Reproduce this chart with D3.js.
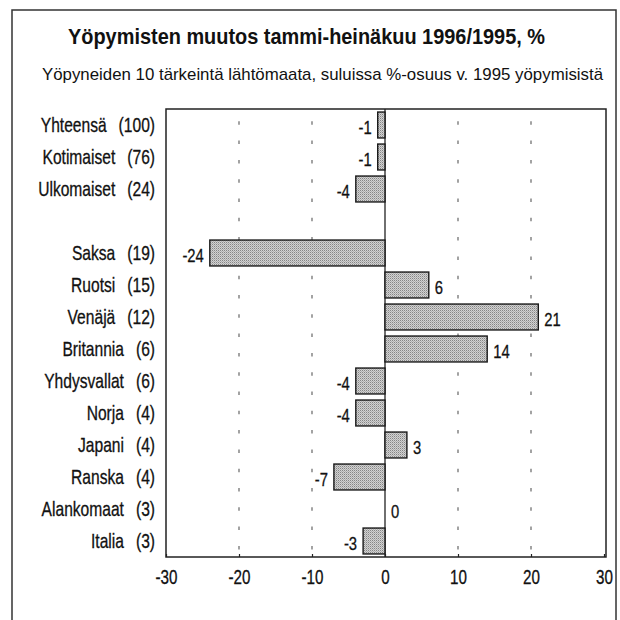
<!DOCTYPE html>
<html>
<head>
<meta charset="utf-8">
<script src="https://cdn.jsdelivr.net/npm/d3@7"></script>
<style>
  html, body { margin: 0; padding: 0; background: #fff; }
  svg { display: block; }
  .narrow { font-family: "Liberation Sans", Arial, Helvetica, sans-serif; stroke: #111; stroke-width: 0.3px; }
</style>
</head>
<body>
<svg id="chart" width="620" height="620"></svg>
<script>
// ---- data ----
const titleText = "Yöpymisten muutos tammi-heinäkuu 1996/1995, %";
const subtitleText = "Yöpyneiden 10 tärkeintä lähtömaata, suluissa %-osuus v. 1995 yöpymisistä";
const names = ["Yhteensä", "Kotimaiset", "Ulkomaiset", "Saksa", "Ruotsi", "Venäjä", "Britannia",
               "Yhdysvallat", "Norja", "Japani", "Ranska", "Alankomaat", "Italia"];
const shares = [100, 76, 24, 19, 15, 12, 6, 6, 4, 4, 4, 3, 3];
const values = [-1, -1, -4, -24, 6, 21, 14, -4, -4, 3, -7, 0, -3];
const tickValues = [-30, -20, -10, 0, 10, 20, 30];
const gridValues = [-20, -10, 10, 20];
const gapAfter = 2; // empty slot after "Ulkomaiset"

// ---- layout ----
const SX = 0.78; // horizontal condensing of the narrow face
const svg = d3.select("#chart");
const rows = names.map((n, i) => ({ name: n, share: shares[i], value: values[i] }));
const slots = [];
rows.forEach((r, i) => { slots.push(r.name); if (i === gapAfter) slots.push("__gap__"); });

const x = d3.scaleLinear().domain([-30, 30]).range([166, 604]);
const y = d3.scaleBand().domain(slots).range([109, 557]).paddingInner(0.19).paddingOuter(0.095);
const plotTop = 109, plotBottom = 557, plotLeft = x(-30), plotRight = x(30) + 2;

// pattern for stippled bars
const defs = svg.append("defs");
const pat = defs.append("pattern").attr("id", "stip").attr("width", 2).attr("height", 2)
  .attr("patternUnits", "userSpaceOnUse");
pat.append("rect").attr("width", 2).attr("height", 2).attr("fill", "#d2d2d2");
pat.append("rect").attr("width", 1).attr("height", 1).attr("fill", "#858585");
pat.append("rect").attr("x", 1).attr("y", 1).attr("width", 1).attr("height", 1).attr("fill", "#aeaeae");

// outer frame
svg.append("rect").attr("x", 12).attr("y", 10).attr("width", 604).attr("height", 640)
  .attr("fill", "none").attr("stroke", "#333").attr("stroke-width", 1.5);

// titles
svg.append("text").attr("x", 68).attr("y", 44)
  .attr("font-family", "Liberation Sans, Arial, sans-serif").attr("font-weight", "bold")
  .attr("font-size", 22).attr("fill", "#111")
  .attr("textLength", 477).attr("lengthAdjust", "spacingAndGlyphs")
  .text(titleText);
svg.append("text").attr("x", 42).attr("y", 80)
  .attr("font-family", "Liberation Sans, Arial, sans-serif")
  .attr("font-size", 17).attr("fill", "#111")
  .attr("textLength", 561).attr("lengthAdjust", "spacingAndGlyphs")
  .text(subtitleText);

// gridlines (dotted)
svg.append("g").selectAll("line").data(gridValues).join("line")
  .attr("x1", d => x(d)).attr("x2", d => x(d))
  .attr("y1", plotTop).attr("y2", plotBottom)
  .attr("stroke", "#666").attr("stroke-width", 1.2)
  .attr("stroke-dasharray", "3.5,15.8").attr("stroke-dashoffset", 7);

// plot box
svg.append("rect").attr("x", plotLeft).attr("y", plotTop)
  .attr("width", plotRight - plotLeft).attr("height", plotBottom - plotTop)
  .attr("fill", "none").attr("stroke", "#222").attr("stroke-width", 1.5);

// bottom axis
const axis = d3.axisBottom(x).tickValues(tickValues).tickSize(-3).tickPadding(17)
  .tickFormat(d => d < 0 ? "-" + Math.abs(d) : String(d));
const gAxis = svg.append("g").attr("transform", `translate(0,${plotBottom})`).call(axis);
gAxis.select(".domain").remove();
gAxis.selectAll(".tick line").attr("stroke", "#222").attr("stroke-width", 1.2);
gAxis.selectAll(".tick text").attr("class", "narrow").attr("font-size", 19.5)
  .attr("fill", "#111").attr("dy", "0.5em").attr("transform", `scale(${SX},1)`);

// zero line
svg.append("line").attr("x1", x(0)).attr("x2", x(0)).attr("y1", plotTop).attr("y2", plotBottom)
  .attr("stroke", "#222").attr("stroke-width", 1.3);

// bars
svg.append("g").selectAll("rect").data(rows).join("rect")
  .attr("x", d => x(Math.min(0, d.value)))
  .attr("y", d => y(d.name))
  .attr("width", d => Math.abs(x(d.value) - x(0)))
  .attr("height", y.bandwidth())
  .attr("fill", "url(#stip)").attr("stroke", "#1a1a1a").attr("stroke-width", 1.4);

// value labels
svg.append("g").selectAll("text").data(rows).join("text")
  .attr("class", "narrow").attr("font-size", 19).attr("fill", "#111")
  .attr("transform", d => {
    const tx = d.value < 0 ? x(d.value) - 6 : x(d.value) + 6;
    const ty = y(d.name) + y.bandwidth() / 2;
    return `translate(${tx},${ty}) scale(${SX},1)`;
  })
  .attr("dy", "0.45em")
  .attr("text-anchor", d => d.value < 0 ? "end" : "start")
  .text(d => d.value < 0 ? "-" + Math.abs(d.value) : String(d.value));

// category labels: name + (share)
const labelRight = 155, labelGap = 12;
const gLab = svg.append("g");
rows.forEach(r => {
  const cy = y(r.name) + y.bandwidth() / 2;
  const s = gLab.append("text").attr("class", "narrow").attr("font-size", 20).attr("fill", "#111")
    .attr("transform", `translate(${labelRight},${cy}) scale(${SX},1)`)
    .attr("dy", "0.36em").attr("text-anchor", "end")
    .text("(" + r.share + ")");
  const w = s.node().getComputedTextLength() * SX;
  gLab.append("text").attr("class", "narrow").attr("font-size", 20).attr("fill", "#111")
    .attr("transform", `translate(${labelRight - w - labelGap},${cy}) scale(${SX},1)`)
    .attr("dy", "0.36em").attr("text-anchor", "end")
    .text(r.name);
});
</script>
</body>
</html>
